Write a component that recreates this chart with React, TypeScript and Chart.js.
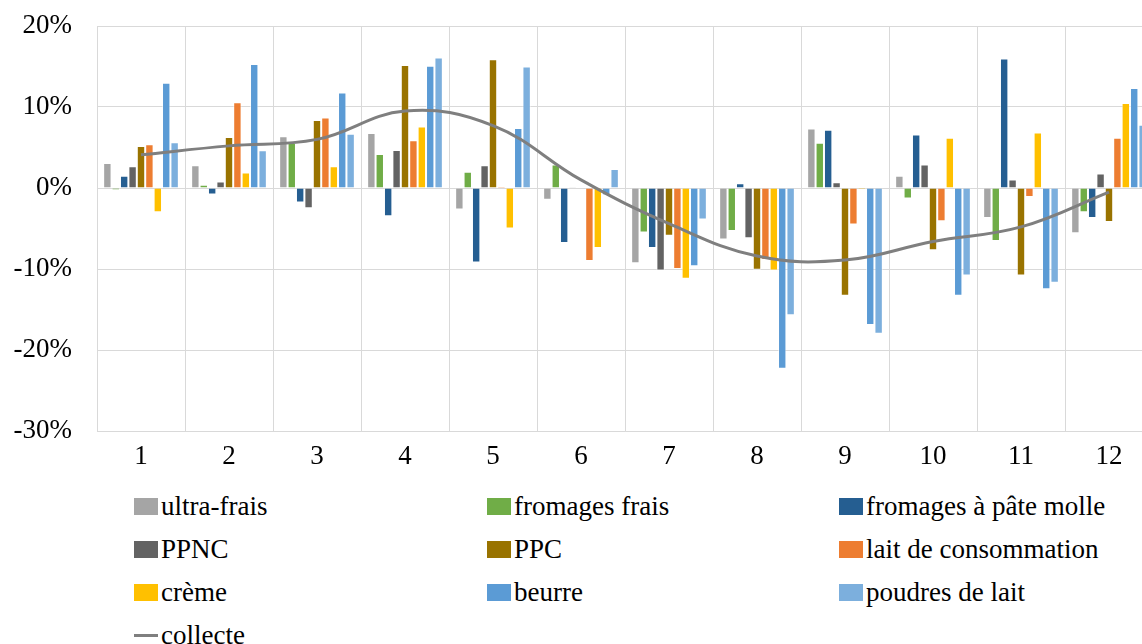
import React, { useEffect, useRef } from "react";
import { Chart, registerables } from "chart.js";

Chart.register(...registerables);

const months = ["1", "2", "3", "4", "5", "6", "7", "8", "9", "10", "11", "12"];
const yTicks = [-30, -20, -10, 0, 10, 20];

const ultraFrais = [3.1, 2.8, 6.4, 6.8, -2.65, -1.45, -9.3, -6.35, 7.35, 1.5, -3.7, -5.6];
const fromagesFrais = [-0.25, 0.4, 5.6, 4.2, 2.0, 2.9, -5.5, -5.3, 5.6, -1.3, -6.55, -3.0];
const fromagesPateMolle = [1.5, -0.8, -1.8, -3.5, -9.2, -6.8, -7.4, 0.6, 7.2, 6.6, 16.0, -3.7];
const ppnc = [2.7, 0.8, -2.5, 4.7, 2.8, 0.1, -10.2, -6.2, 0.7, 2.9, 1.05, 1.8];
const ppc = [5.2, 6.3, 8.4, 15.2, 15.9, 0, -5.9, -10.1, -13.3, -7.7, -10.8, -4.2];
const laitConsommation = [5.4, 10.6, 8.7, 5.9, 0.2, -9.0, -10.0, -8.9, -4.5, -4.1, -1.1, 6.2];
const creme = [-3.0, 1.9, 2.7, 7.6, -5.0, -7.4, -11.2, -10.2, -0.2, 6.2, 6.85, 10.5];
const beurre = [13.0, 15.3, 11.8, 15.1, 7.4, -0.9, -9.65, -22.3, -16.9, -13.3, -12.5, 12.35];
const poudresLait = [5.65, 4.65, 6.7, 16.1, 15.0, 2.35, -3.9, -15.7, -18.0, -10.8, -11.7, 7.8];
const collecte = [4.1, 5.2, 6.0, 9.5, 7.7, 1.0, -4.4, -8.4, -8.9, -6.6, -4.8, -0.5];

const barSeries = [
  { label: "ultra-frais", data: ultraFrais, color: "#A5A5A5" },
  { label: "fromages frais", data: fromagesFrais, color: "#70AD47" },
  { label: "fromages à pâte molle", data: fromagesPateMolle, color: "#255E91" },
  { label: "PPNC", data: ppnc, color: "#636363" },
  { label: "PPC", data: ppc, color: "#997300" },
  { label: "lait de consommation", data: laitConsommation, color: "#ED7D31" },
  { label: "crème", data: creme, color: "#FFC000" },
  { label: "beurre", data: beurre, color: "#5B9BD5" },
  { label: "poudres de lait", data: poudresLait, color: "#7CAFDD" },
];
const lineSeries = { label: "collecte", data: collecte, color: "#7F7F7F" };

const FONT = "'Liberation Serif', 'DejaVu Serif', serif";
const GRID = "#d9d9d9";

export default function App() {
  const ref = useRef<HTMLCanvasElement | null>(null);

  useEffect(() => {
    if (!ref.current) return;
    const chart = new Chart(ref.current, {
      type: "bar",
      data: {
        labels: months,
        datasets: [
          {
            type: "line",
            label: lineSeries.label,
            data: lineSeries.data,
            borderColor: lineSeries.color,
            backgroundColor: lineSeries.color,
            borderWidth: 3,
            pointRadius: 0,
            tension: 0.4,
            fill: false,
            order: 0,
          } as any,
          ...barSeries.map((s) => ({
            type: "bar",
            label: s.label,
            data: s.data,
            backgroundColor: s.color,
            borderColor: "rgba(255,255,255,0.55)",
            borderWidth: 1,
            categoryPercentage: 0.86,
            barPercentage: 1.0,
            order: 1,
          })),
        ],
      },
      options: {
        responsive: false,
        animation: false,
        layout: { padding: { top: 26, left: 0, right: 0, bottom: 0 } },
        plugins: {
          legend: { display: false },
          tooltip: { enabled: false },
        },
        scales: {
          x: {
            grid: { color: GRID, lineWidth: 1, drawTicks: false, offset: true },
            border: { color: GRID, width: 1 },
            ticks: {
              color: "#000",
              font: { family: FONT, size: 27 },
              padding: 10,
              maxRotation: 0,
            },
            afterFit: (scale: any) => {
              scale.height = 39;
              scale.paddingLeft = 0;
              scale.paddingRight = 0;
            },
          },
          y: {
            min: yTicks[0],
            max: yTicks[yTicks.length - 1],
            grid: { color: GRID, lineWidth: 1, drawTicks: false },
            border: { color: GRID, width: 1 },
            afterBuildTicks: (scale: any) => {
              scale.ticks = yTicks.map((v) => ({ value: v }));
            },
            ticks: {
              color: "#000",
              font: { family: FONT, size: 27 },
              padding: 25,
              callback: (v: any) => `${v}%`,
            },
            afterFit: (scale: any) => {
              scale.width = 97;
              scale.paddingTop = 0;
              scale.paddingBottom = 0;
            },
          },
        },
      },
    });
    return () => chart.destroy();
  }, []);

  const legendItems = [
    ...barSeries.map((s) => ({ label: s.label, color: s.color, kind: "box" })),
    { label: lineSeries.label, color: lineSeries.color, kind: "line" },
  ];
  const colX = [134, 487, 839];
  const rowY = [506.7, 549.3, 592.3, 635];

  return (
    <div
      style={{
        position: "fixed",
        left: 0,
        top: 0,
        width: 1142,
        height: 644,
        overflow: "hidden",
        background: "#fff",
      }}
    >
      <canvas ref={ref} width={1153} height={470} style={{ position: "absolute", left: 0, top: 0 }} />
      {legendItems.map((it, i) => {
        const col = i % 3;
        const row = Math.floor(i / 3);
        return (
          <div
            key={it.label}
            style={{
              position: "absolute",
              left: colX[col],
              top: rowY[row] - 15,
              height: 30,
              display: "flex",
              alignItems: "center",
              fontFamily: FONT,
              fontSize: 27,
              lineHeight: 1,
              color: "#000",
              whiteSpace: "nowrap",
            }}
          >
            {it.kind === "box" ? (
              <span style={{ display: "inline-block", width: 24, height: 17, background: it.color, marginRight: 3 }} />
            ) : (
              <span style={{ display: "inline-block", width: 24, height: 3, background: it.color, marginRight: 3 }} />
            )}
            <span>{it.label}</span>
          </div>
        );
      })}
    </div>
  );
}
